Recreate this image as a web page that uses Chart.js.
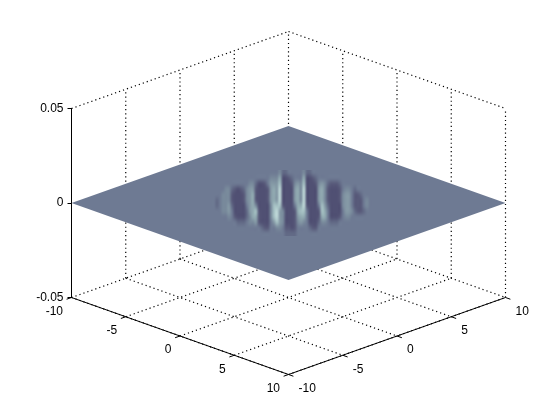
<!DOCTYPE html>
<html>
<head>
<meta charset="utf-8">
<title>surface</title>
<style>
  html, body { margin: 0; background: #fff; }
  canvas { display: block; }
</style>
</head>
<body>
<canvas id="surf" width="560" height="420"></canvas>
<script src="https://cdn.jsdelivr.net/npm/chart.js@4/dist/chart.umd.min.js"></script>
<script>
const xTicks = [-10, -5, 0, 5, 10];
const yTicks = [-10, -5, 0, 5, 10];
const zTicks = [-0.05, 0, 0.05];

// shade, 0 dark .. 9 bright, 3 is the flat sheet
const surfaceShade = [
  '33333 33333 33333 33333 33422 33333 42233 33333 33333 33333 333',
  '33333 33333 33333 33334 44600 12333 60012 33333 33333 33333 333',
  '33333 33333 33442 00135 55700 01454 70001 45421 11233 33333 333',
  '33334 42101 24551 00015 65800 00564 80000 56410 00134 43233 333',
  '33344 41000 14561 00015 65800 00564 80000 56410 00145 53112 333',
  '32344 41000 14561 00015 65800 00564 80000 56410 00145 53111 343',
  '32344 52000 03564 00004 77710 00366 81000 37520 00045 53111 343',
  '33344 53000 02567 10004 78540 00167 73000 17630 00035 54211 233',
  '33333 43100 02466 10004 78540 00156 63000 16630 00134 43333 333',
  '33333 33322 23445 10003 57540 00145 43000 24432 22333 33333 333',
  '33333 33333 33333 32113 34431 10133 33211 33333 33333 33333 333',
  '33333 33333 33333 33333 33332 22233 33333 33333 33333 33333 333'
];

const shadeColours = [
  [80, 80, 115], [88, 90, 122], [98, 106, 134], [110, 122, 147], [120, 137, 155],
  [132, 152, 165], [145, 170, 177], [165, 192, 195], [190, 215, 215], [220, 238, 238]
];

// view of the box: a + b runs across, b - a runs up and is squashed into z units
const skew = 3.85 / 1890;
const project = (a, b, z) => ({ x: a + b, y: z + (b - a) * skew });
const zMin = zTicks[0];
const zMax = zTicks[zTicks.length - 1];
const lo = xTicks[0];
const hi = xTicks[xTicks.length - 1];
const reach = zMax + (hi - lo) * skew;
const tickLen = 0.45;

// joins pairs of 3d ends into one line with gaps
function segments(list) {
  const pts = [];
  list.forEach(s => {
    pts.push(project(s[0], s[1], s[2]), project(s[3], s[4], s[5]), { x: null, y: null });
  });
  return pts;
}

const floorLines = [];
xTicks.forEach(a => floorLines.push([a, lo, zMin, a, hi, zMin]));
yTicks.forEach(b => floorLines.push([lo, b, zMin, hi, b, zMin]));

const wallLines = [[lo, lo, zMax, lo, hi, zMax], [lo, hi, zMax, hi, hi, zMax]];
yTicks.slice(1).forEach(b => wallLines.push([lo, b, zMin, lo, b, zMax]));
xTicks.slice(1).forEach(a => wallLines.push([a, hi, zMin, a, hi, zMax]));

const axisLines = [
  [lo, lo, zMin, lo, lo, zMax],
  [lo, lo, zMin, hi, lo, zMin],
  [hi, lo, zMin, hi, hi, zMin]
];
xTicks.forEach(a => axisLines.push([a, lo, zMin, a, lo - tickLen, zMin]));
yTicks.forEach(b => axisLines.push([hi, b, zMin, hi + tickLen, b, zMin]));

const sheet = [[lo, lo], [hi, lo], [hi, hi], [lo, hi], [lo, lo]].map(c => project(c[0], c[1], 0));

// ripple patch, bilinear smoothing of the shade cells
const ripple = {
  id: 'ripple',
  afterDatasetsDraw(chart) {
    const rows = surfaceShade.map(r => r.match(/\d/g).map(Number));
    const off = document.createElement('canvas');
    off.width = rows[0].length;
    off.height = rows.length;
    const octx = off.getContext('2d');
    const img = octx.createImageData(off.width, off.height);
    rows.forEach((row, j) => row.forEach((v, i) => {
      const c = shadeColours[v];
      img.data.set([c[0], c[1], c[2], 255], (j * off.width + i) * 4);
    }));
    octx.putImageData(img, 0, 0);
    const { x, y } = chart.scales;
    const left = x.getPixelForValue(-7.005);
    const right = x.getPixelForValue(7.65);
    const top = y.getPixelForValue(0.0175);
    const bottom = y.getPixelForValue(-0.0175);
    const ctx = chart.ctx;
    ctx.save();
    ctx.imageSmoothingEnabled = true;
    ctx.imageSmoothingQuality = 'high';
    ctx.drawImage(off, left, top, right - left, bottom - top);
    ctx.restore();
  }
};

// the two floor axes run on the diagonal, so their labels go here
const floorLabels = {
  id: 'floorLabels',
  afterDraw(chart) {
    const { x, y } = chart.scales;
    const ctx = chart.ctx;
    ctx.save();
    ctx.font = '12px "Liberation Sans"';
    ctx.fillStyle = '#000';
    ctx.textBaseline = 'middle';
    ctx.textAlign = 'right';
    xTicks.forEach(a => {
      const p = project(a, lo, zMin);
      ctx.fillText(String(a), x.getPixelForValue(p.x) - 8.5, y.getPixelForValue(p.y) + 14);
    });
    ctx.textAlign = 'left';
    yTicks.forEach(b => {
      const p = project(hi, b, zMin);
      ctx.fillText(String(b), x.getPixelForValue(p.x) + 10, y.getPixelForValue(p.y) + 14);
    });
    ctx.restore();
  }
};

const dotted = { showLine: true, pointRadius: 0, borderColor: '#000', borderWidth: 1.2, borderDash: [1.2, 3], clip: false };

new Chart(document.getElementById('surf'), {
  type: 'scatter',
  data: {
    datasets: [
      { label: 'surface', data: sheet, showLine: true, pointRadius: 0, borderWidth: 0, borderColor: 'rgba(0,0,0,0)',
        backgroundColor: 'rgb(110,122,147)', fill: 'shape', order: 1, clip: false },
      { label: 'axes', data: segments(axisLines), showLine: true, pointRadius: 0, borderColor: '#000', borderWidth: 1, order: 2, clip: false },
      { label: 'floor', data: segments(floorLines), order: 3, ...dotted },
      { label: 'walls', data: segments(wallLines), order: 3, ...dotted }
    ]
  },
  options: {
    responsive: false,
    animation: false,
    layout: { padding: { top: 31.5, right: 54.5, bottom: 45.5, left: 0 } },
    plugins: { legend: { display: false }, tooltip: { enabled: false } },
    scales: {
      x: { type: 'linear', display: false, min: lo + lo, max: hi + hi },
      y: {
        type: 'linear',
        min: -reach,
        max: reach,
        border: { display: false },
        grid: { drawOnChartArea: false, drawTicks: true, tickLength: 4, color: '#000' },
        ticks: { color: '#000', padding: 4, autoSkip: false, font: { family: 'Liberation Sans', size: 12 }, callback: v => String(v) },
        afterBuildTicks: s => { s.ticks = zTicks.map(v => ({ value: v })); },
        afterFit: s => { s.width = 71.5; }
      }
    }
  },
  plugins: [ripple, floorLabels]
});
</script>
</body>
</html>
